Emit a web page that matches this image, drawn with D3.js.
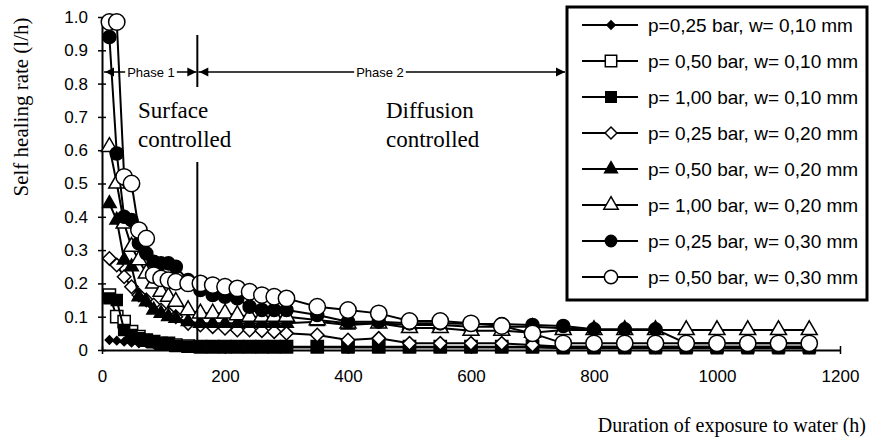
<!DOCTYPE html>
<html>
<head>
<meta charset="utf-8">
<script src="https://cdn.jsdelivr.net/npm/d3@7"></script>
<style>
  html, body { margin: 0; padding: 0; background: #fff; }
  svg { display: block; }
  .tick-label { font-family: "Liberation Sans", Arial, sans-serif; font-size: 17px; fill: #000; }
  .serif { font-family: "Liberation Serif", "Times New Roman", serif; fill: #000; }
  .legend-text { font-family: "Liberation Sans", Arial, sans-serif; font-size: 19px; fill: #000; }
  .phase { font-family: "Liberation Sans", Arial, sans-serif; font-size: 13px; fill: #000; }
</style>
</head>
<body>
<svg id="chart" width="875" height="440"></svg>
<script>
// Exposure time of each measurement (h)
const hours = [12, 24, 36, 48, 60, 72, 84, 96, 108, 120, 140, 160, 180, 200, 220, 240, 260, 280, 300,
               350, 400, 450, 500, 550, 600, 650, 700, 750, 800, 850, 900, 950, 1000, 1050, 1100, 1150];

// Self healing rate (l/h) per test condition
const rate_p025_w010 = [0.030, 0.028, 0.025, 0.022, 0.020, 0.020, 0.018, 0.018, 0.015, 0.010, 0.010, 0.008, 0.008, 0.008, 0.008, 0.008, 0.008, 0.008, 0.008,
                        0.008, 0.008, 0.008, 0.008, 0.008, 0.008, 0.008, 0.008, 0.008, 0.008, 0.008, 0.008, 0.008, 0.008, 0.008, 0.008, 0.008];
const rate_p050_w010 = [0.165, 0.100, 0.085, 0.055, 0.040, 0.030, 0.025, 0.020, 0.020, 0.015, 0.012, 0.010, 0.010, 0.010, 0.010, 0.010, 0.010, 0.010, 0.010,
                        0.010, 0.010, 0.010, 0.010, 0.010, 0.010, 0.010, 0.010, 0.010, 0.010, 0.010, 0.010, 0.010, 0.010, 0.010, 0.010, 0.010];
const rate_p100_w010 = [0.155, 0.150, 0.060, 0.045, 0.035, 0.030, 0.025, 0.020, 0.018, 0.012, 0.010, 0.008, 0.008, 0.008, 0.008, 0.008, 0.008, 0.008, 0.008,
                        0.008, 0.008, 0.008, 0.008, 0.008, 0.008, 0.008, 0.008, 0.005, 0.005, 0.005, 0.005, 0.005, 0.005, 0.005, 0.005, 0.005];
const rate_p025_w020 = [0.275, 0.255, 0.220, 0.190, 0.165, 0.150, 0.135, 0.120, 0.110, 0.100, 0.080, 0.075, 0.070, 0.065, 0.060, 0.060, 0.058, 0.055, 0.050,
                        0.045, 0.030, 0.035, 0.020, 0.020, 0.020, 0.020, 0.015, 0.010, 0.010, 0.010, 0.010, 0.010, 0.010, 0.010, 0.010, 0.010];
const rate_p050_w020 = [0.440, 0.390, 0.270, 0.250, 0.160, 0.145, 0.120, 0.110, 0.100, 0.095, 0.085, 0.080, 0.080, 0.080, 0.080, 0.080, 0.080, 0.080, 0.080,
                        0.085, 0.075, 0.080, 0.075, 0.075, 0.070, 0.070, 0.070, 0.065, 0.060, 0.060, 0.060, 0.060, 0.060, 0.060, 0.060, 0.060];
const rate_p100_w020 = [0.610, 0.500, 0.380, 0.310, 0.270, 0.230, 0.200, 0.175, 0.160, 0.145, 0.120, 0.110, 0.110, 0.110, 0.105, 0.100, 0.100, 0.100, 0.100,
                        0.090, 0.080, 0.080, 0.066, 0.066, 0.058, 0.058, 0.052, 0.060, 0.060, 0.060, 0.060, 0.060, 0.060, 0.060, 0.060, 0.060];
const rate_p025_w030 = [0.940, 0.590, 0.400, 0.390, 0.320, 0.290, 0.265, 0.260, 0.260, 0.250, 0.210, 0.180, 0.165, 0.160, 0.155, 0.130, 0.120, 0.120, 0.120,
                        0.105, 0.085, 0.085, 0.080, 0.080, 0.078, 0.078, 0.075, 0.072, 0.062, 0.062, 0.062, 0.020, 0.020, 0.020, 0.020, 0.020];
const rate_p050_w030 = [0.985, 0.985, 0.520, 0.500, 0.360, 0.335, 0.225, 0.215, 0.210, 0.205, 0.200, 0.200, 0.195, 0.190, 0.185, 0.175, 0.165, 0.160, 0.155,
                        0.130, 0.120, 0.110, 0.087, 0.087, 0.080, 0.072, 0.050, 0.020, 0.020, 0.020, 0.020, 0.020, 0.020, 0.020, 0.020, 0.020];

const seriesLabels = [
  "p=0,25 bar, w= 0,10 mm",
  "p= 0,50 bar, w= 0,10 mm",
  "p= 1,00 bar, w= 0,10 mm",
  "p= 0,25 bar, w= 0,20 mm",
  "p= 0,50 bar, w= 0,20 mm",
  "p= 1,00 bar, w= 0,20 mm",
  "p= 0,25 bar, w= 0,30 mm",
  "p= 0,50 bar, w= 0,30 mm"
];
const seriesValues = [rate_p025_w010, rate_p050_w010, rate_p100_w010, rate_p025_w020,
                      rate_p050_w020, rate_p100_w020, rate_p025_w030, rate_p050_w030];

const xTicks = [0, 200, 400, 600, 800, 1000, 1200];
const yTicks = [0, 0.1, 0.2, 0.3, 0.4, 0.5, 0.6, 0.7, 0.8, 0.9, 1.0];
const phaseBoundary = 155;   // h, end of the surface-controlled phase

// Square turned 45 degrees
const symbolRhomb = {
  draw(ctx, size) {
    const r = Math.sqrt(size / 2);
    ctx.moveTo(0, -r); ctx.lineTo(r, 0); ctx.lineTo(0, r); ctx.lineTo(-r, 0); ctx.closePath();
  }
};

// Marker style for each series: shape, filled or open, plot size, legend size
const markerStyles = [
  { type: symbolRhomb,        fill: "#000", size: 34,  legend: 34 },
  { type: d3.symbolSquare,    fill: "#fff", size: 150, legend: 130 },
  { type: d3.symbolSquare,    fill: "#000", size: 120, legend: 110 },
  { type: symbolRhomb,        fill: "#fff", size: 90,  legend: 70 },
  { type: d3.symbolTriangle,  fill: "#000", size: 80,  legend: 70 },
  { type: d3.symbolTriangle,  fill: "#fff", size: 110, legend: 90 },
  { type: d3.symbolCircle,    fill: "#000", size: 135, legend: 100 },
  { type: d3.symbolCircle,    fill: "#fff", size: 210, legend: 140 }
];

const svg = d3.select("#chart");

const x = d3.scaleLinear().domain([0, 1200]).range([102, 840]);
const y = d3.scaleLinear().domain([0, 1]).range([350, 17]);

// Axes
const xAxis = svg.append("g").attr("transform", `translate(0,${y(0)})`)
  .call(d3.axisBottom(x).tickValues(xTicks).tickSizeInner(4).tickSizeOuter(0).tickFormat(d3.format("d")));
xAxis.select(".domain").attr("stroke", "#000").attr("stroke-width", 2);
xAxis.selectAll(".tick line").attr("stroke", "#000").attr("stroke-width", 1.5).attr("y1", -4).attr("y2", 4);
xAxis.selectAll(".tick text").attr("class", "tick-label").attr("y", 20).attr("dy", "0.71em");

const yAxis = svg.append("g").attr("transform", `translate(${x(0)},0)`)
  .call(d3.axisLeft(y).tickValues(yTicks).tickSizeInner(4).tickSizeOuter(0)
    .tickFormat(d => d === 0 ? "0" : d3.format(".1f")(d)));
yAxis.select(".domain").attr("stroke", "#000").attr("stroke-width", 2);
yAxis.selectAll(".tick line").attr("stroke", "#000").attr("stroke-width", 1.5).attr("x1", -4).attr("x2", 4);
yAxis.selectAll(".tick text").attr("class", "tick-label").attr("x", -14);

// Series: connecting line first, markers on top
const line = d3.line().x((d, i) => x(hours[i])).y(d => y(d));
seriesValues.forEach((vals, s) => {
  const st = markerStyles[s];
  const g = svg.append("g");
  g.append("path").datum(vals).attr("d", line)
    .attr("fill", "none").attr("stroke", "#000").attr("stroke-width", 2);
  g.selectAll("path.m").data(vals).join("path").attr("class", "m")
    .attr("transform", (d, i) => `translate(${x(hours[i])},${y(d)})`)
    .attr("d", d3.symbol().type(st.type).size(st.size))
    .attr("fill", st.fill).attr("stroke", "#000").attr("stroke-width", 1.5);
});

// Phase annotations
const xb = x(phaseBoundary);
svg.append("line").attr("x1", xb).attr("x2", xb).attr("y1", 35).attr("y2", 87)
  .attr("stroke", "#000").attr("stroke-width", 2);
svg.append("line").attr("x1", xb).attr("x2", xb).attr("y1", 162).attr("y2", y(0))
  .attr("stroke", "#000").attr("stroke-width", 2);

const ay = 72;
function arrowHead(tipX, dir) {
  svg.append("path")
    .attr("d", `M${tipX},${ay} L${tipX - dir * 9},${ay - 4.5} L${tipX - dir * 9},${ay + 4.5} Z`)
    .attr("fill", "#000");
}
svg.append("line").attr("x1", x(0) + 2).attr("x2", xb - 1).attr("y1", ay).attr("y2", ay)
  .attr("stroke", "#000").attr("stroke-width", 1.5);
arrowHead(x(0) + 3, -1);
arrowHead(xb - 1, 1);
svg.append("line").attr("x1", xb + 1).attr("x2", 565).attr("y1", ay).attr("y2", ay)
  .attr("stroke", "#000").attr("stroke-width", 1.5);
arrowHead(xb + 2, -1);
arrowHead(565, 1);

function phaseLabel(cx, txt) {
  const t = svg.append("text").attr("class", "phase").attr("x", cx).attr("y", ay + 4.5)
    .attr("text-anchor", "middle").text(txt);
  const bb = t.node().getBBox();
  svg.insert("rect", () => t.node()).attr("x", bb.x - 2).attr("y", bb.y).attr("width", bb.width + 4)
    .attr("height", bb.height).attr("fill", "#fff");
}
phaseLabel(151, "Phase 1");
phaseLabel(380, "Phase 2");

const regime = [
  { x: 138, lines: ["Surface", "controlled"] },
  { x: 386, lines: ["Diffusion", "controlled"] }
];
regime.forEach(r => {
  r.lines.forEach((ln, i) => {
    svg.append("text").attr("class", "serif").attr("x", r.x).attr("y", 118 + i * 29)
      .style("font-size", "23px").text(ln);
  });
});

// Axis titles
svg.append("text").attr("class", "serif").attr("text-anchor", "end")
  .attr("x", 866).attr("y", 432).style("font-size", "20px")
  .text("Duration of exposure to water (h)");
svg.append("text").attr("class", "serif").attr("text-anchor", "middle")
  .attr("transform", "translate(28,107) rotate(-90)").style("font-size", "21px")
  .text("Self healing rate (l/h)");

// Legend
const legend = svg.append("g");
legend.append("rect").attr("x", 567).attr("y", 7).attr("width", 300).attr("height", 293)
  .attr("fill", "#fff").attr("stroke", "#000").attr("stroke-width", 3);
seriesLabels.forEach((lab, i) => {
  const ly = 25 + i * 36;
  const st = markerStyles[i];
  legend.append("line").attr("x1", 582).attr("x2", 638).attr("y1", ly).attr("y2", ly)
    .attr("stroke", "#000").attr("stroke-width", 2);
  legend.append("path").attr("transform", `translate(611,${ly})`)
    .attr("d", d3.symbol().type(st.type).size(st.legend))
    .attr("fill", st.fill).attr("stroke", "#000").attr("stroke-width", 1.5);
  legend.append("text").attr("class", "legend-text").attr("x", 648).attr("y", ly).attr("dy", "0.35em")
    .text(lab);
});
</script>
</body>
</html>
